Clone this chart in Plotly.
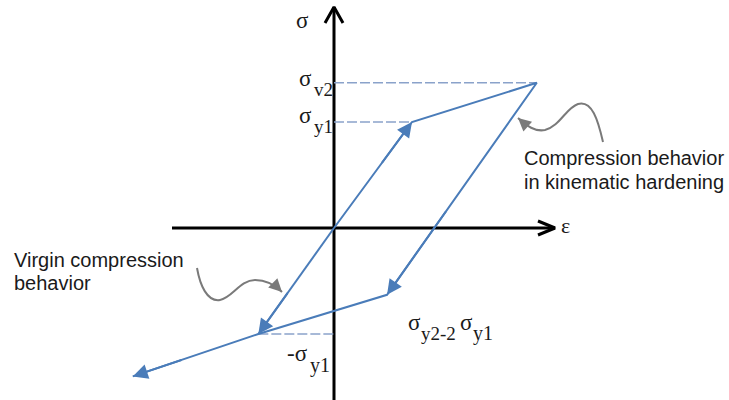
import plotly.graph_objects as go

# ---- data (stress in units of sigma_y1, strain in units of eps_y1) ----
sig_y1 = 1.0
sig_y2 = 1.37
eps_peak = 2.60          # strain at sigma_y2
eps_unload = 0.68        # strain at end of elastic unloading (sigma_y2 - 2 sigma_y1)
eps_comp = -0.97         # strain at -sigma_y1 on virgin compression
eps_tail = -2.58
sig_tail = -1.40

# hysteresis path: load -> harden -> unload -> reverse harden -> continue
path_eps = [0.0, 1.0, eps_peak, eps_unload, eps_comp, eps_tail]
path_sig = [0.0, sig_y1, sig_y2, sig_y2 - 2 * sig_y1, -sig_y1, sig_tail]
# virgin compression branch
virgin_eps = [0.0, eps_comp]
virgin_sig = [0.0, -sig_y1]

# ---- page geometry: pixels per unit and origin position ----
W, H = 729, 400
OX, OY = 334, 228
SX, SY = 78.0, 106.0


def P(x, y):
    """pixel position -> data coordinates"""
    return (x - OX) / SX, (OY - y) / SY


BLUE = "#4a7cb9"
DASH = "#8aa2ca"
GRAY = "#7a7a7a"
TXT = "#1a1a1a"
SERIF = "Liberation Serif, Times New Roman, serif"
SANS = "Liberation Sans, Arial, sans-serif"

fig = go.Figure()

# axes with open chevron heads
ax_left, _ = P(172, 0)
ax_right, _ = P(555, 0)
_, ax_top = P(0, 7)
_, ax_bot = P(0, 402)
fig.add_trace(go.Scatter(x=[ax_left, ax_right], y=[0, 0], mode="lines",
                         line=dict(color="black", width=3)))
fig.add_trace(go.Scatter(x=[0, 0], y=[ax_bot, ax_top], mode="lines",
                         line=dict(color="black", width=3)))
hx1, hy1 = P(538, 221)
hx2, hy2 = P(538, 235)
fig.add_trace(go.Scatter(x=[hx1, ax_right, hx2], y=[hy1, 0, hy2], mode="lines",
                         line=dict(color="black", width=3)))
vx1, vy1 = P(325, 23)
vx2, vy2 = P(343, 23)
fig.add_trace(go.Scatter(x=[vx1, 0, vx2], y=[vy1, ax_top, vy2], mode="lines",
                         line=dict(color="black", width=3)))

# dashed stress levels
for xs, ys in [([0, eps_peak], [sig_y2, sig_y2]),
               ([0, 1.0], [sig_y1, sig_y1]),
               ([eps_comp, 0], [-sig_y1, -sig_y1])]:
    fig.add_trace(go.Scatter(x=xs, y=ys, mode="lines",
                             line=dict(color=DASH, width=1.5, dash="10px,3px")))

# stress-strain curves
fig.add_trace(go.Scatter(x=path_eps, y=path_sig, mode="lines",
                         line=dict(color=BLUE, width=2)))
fig.add_trace(go.Scatter(x=virgin_eps, y=virgin_sig, mode="lines",
                         line=dict(color=BLUE, width=2)))

annotations = []


def arrow_on(x0, y0, x1, y1, frac=0.6):
    sx = x0 + (x1 - x0) * frac
    sy = y0 + (y1 - y0) * frac
    annotations.append(dict(x=x1, y=y1, ax=sx, ay=sy, xref="x", yref="y",
                            axref="x", ayref="y", text="", showarrow=True,
                            arrowhead=2, arrowsize=1.5, arrowwidth=2,
                            arrowcolor=BLUE, standoff=0))


arrow_on(path_eps[0], path_sig[0], path_eps[1], path_sig[1])
arrow_on(path_eps[2], path_sig[2], path_eps[3], path_sig[3])
arrow_on(virgin_eps[0], virgin_sig[0], virgin_eps[1], virgin_sig[1])
arrow_on(path_eps[4], path_sig[4], path_eps[5], path_sig[5])


# curved callout pointers
def path_str(pts):
    s = ""
    for cmd, coords in pts:
        s += cmd
        s += " ".join("%.4f,%.4f" % P(x, y) for x, y in coords) + " "
    return s.strip()


shapes = [
    dict(type="path", xref="x", yref="y",
         path=path_str([("M", [(603, 142)]),
                        ("C", [(598, 120), (592, 100), (578, 104)]),
                        ("C", [(566, 108), (560, 126), (545, 130)]),
                        ("C", [(535, 132), (527, 126), (518, 118)])]),
         line=dict(color=GRAY, width=2)),
    dict(type="path", xref="x", yref="y",
         path=path_str([("M", [(197, 268)]),
                        ("C", [(200, 285), (207, 302), (220, 300)]),
                        ("C", [(232, 298), (240, 280), (255, 280)]),
                        ("C", [(266, 280), (275, 285), (282, 292)])]),
         line=dict(color=GRAY, width=2)),
]
for (tx, ty), (dx, dy) in [((518, 118), (9, 8)), ((282, 292), (-7, -7))]:
    x, y = P(tx, ty)
    annotations.append(dict(x=x, y=y, ax=dx, ay=dy, xref="x", yref="y",
                            text="", showarrow=True, arrowhead=2, arrowsize=1.3,
                            arrowwidth=2, arrowcolor=GRAY, standoff=0))


def label(text, px_, py_, font, size, xanchor="left"):
    x, y = P(px_, py_)
    annotations.append(dict(x=x, y=y, xref="x", yref="y", text=text,
                            showarrow=False, xanchor=xanchor, yanchor="middle",
                            font=dict(family=font, size=size, color=TXT)))


# axis names
label("σ", 302, 20, SERIF, 23, "center")
label("ε", 559, 225, SERIF, 22, "left")
# stress level labels
label("σ", 314, 78, SERIF, 23, "right")
label("v2", 312, 89, SERIF, 19, "left")
label("σ", 314, 115, SERIF, 23, "right")
label("y1", 312, 126, SERIF, 19, "left")
label("-σ", 310, 353, SERIF, 23, "right")
label("y1", 308, 365, SERIF, 20, "left")
label("σ", 406, 322, SERIF, 23, "left")
label("y2-2", 419, 333, SERIF, 19, "left")
label("σ", 458, 322, SERIF, 23, "left")
label("y1", 471, 333, SERIF, 20, "left")
# callout texts
label("Compression behavior", 522, 158, SANS, 20, "left")
label("in kinematic hardening", 522, 182, SANS, 20, "left")
label("Virgin compression", 12, 260, SANS, 20, "left")
label("behavior", 12, 283, SANS, 20, "left")

x0, y0 = P(0, H)
x1, y1 = P(W, 0)
fig.update_layout(
    width=W, height=H, margin=dict(l=0, r=0, t=0, b=0),
    paper_bgcolor="white", plot_bgcolor="white", showlegend=False,
    xaxis=dict(range=[x0, x1], visible=False, fixedrange=True),
    yaxis=dict(range=[y0, y1], visible=False, fixedrange=True),
    annotations=annotations, shapes=shapes,
)
fig.write_html("out.html")
